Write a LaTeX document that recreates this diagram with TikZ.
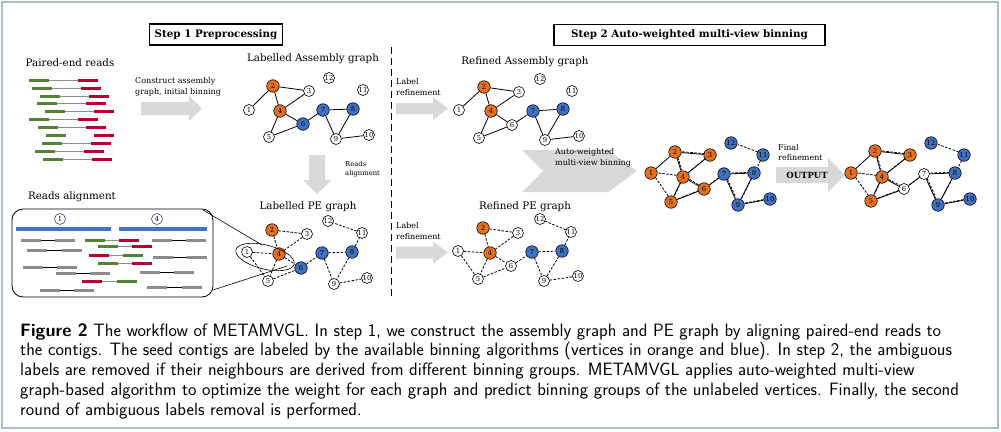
\documentclass[tikz,border=0pt]{standalone}
\usepackage{fontspec}
\setmainfont{DejaVu Serif}
\usetikzlibrary{positioning}

\definecolor{nodeorange}{HTML}{E3701E}
\definecolor{nodeblue}{HTML}{4270C0}
\definecolor{readgreen}{HTML}{548235}
\definecolor{readred}{HTML}{B8002E}
\definecolor{readgray}{HTML}{8C8C8C}
\definecolor{arrowgray}{HTML}{D9D9D9}
\definecolor{framec}{HTML}{A9BCD0}
\definecolor{barblue}{HTML}{4472C4}

\tikzset{
  vtx/.style={circle,draw,line width=0.6pt,minimum size=11pt,inner sep=0pt,font=\fontsize{6.8}{7}\selectfont},
  wv/.style={fill=white},
  ov/.style={fill=nodeorange,minimum size=12.5pt},
  bv/.style={fill=nodeblue,minimum size=12.5pt},
  asm/.style={line width=0.8pt},
  pe/.style={line width=0.8pt,dash pattern=on 2.5pt off 1.5pt},
  gtitle/.style={font=\fontsize{10.3}{12}\selectfont},
  smalllbl/.style={font=\fontsize{8}{10.5}\selectfont,align=left,anchor=west,inner sep=0pt},
  stepbox/.style={draw,line width=1.2pt,font=\bfseries\fontsize{10.3}{11}\selectfont,minimum height=21pt,inner sep=0pt},
}

% vertices of one graph: prefix, list of number/x/y/style
\newcommand{\placegraph}[2]{\foreach \n/\x/\y/\s in {#2} \node[vtx,\s] (#1\n) at (\x,\y) {\n};}
% assembly graph edges
\newcommand{\asmedges}[2][]{\foreach \a/\b in {1/2,2/3,2/4,3/4,4/5,4/6,5/6,6/7,7/8,7/9,8/9,9/10} \draw[asm,#1] (#2\a) -- (#2\b);}
% PE graph edges
\newcommand{\peedges}[2][]{\foreach \a/\b in {1/4,1/5,2/3,2/4,3/4,4/5,4/6,5/6,6/7,7/8,7/9,8/9,9/10,11/12,8/11} \draw[pe,#1] (#2\a) -- (#2\b);}
% one read pair: y, x1, colour1, x2, colour2, middle colour
\newcommand{\readpair}[6]{%
  \draw[draw=#6,line width=0.9pt] (#2+20,#1) -- (#4,#1);
  \draw[#3,line width=3pt] (#2,#1) -- ++(20,0);
  \draw[#5,line width=3pt] (#4,#1) -- ++(20,0);}
% grey block arrow to the right: tail x, head x, tip x, mid y, body half, head half
\newcommand{\blockarrow}[6]{%
  \fill[arrowgray] (#1,#4-#5) -- (#2,#4-#5) -- (#2,#4-#6) -- (#3,#4) -- (#2,#4+#6) -- (#2,#4+#5) -- (#1,#4+#5) -- cycle;}

\begin{document}
\begin{tikzpicture}[x=1pt,y=-1pt]
\useasboundingbox (0,0) rectangle (1001,431);
\draw[framec,line width=1.5pt] (2,2) rectangle (998,428);

% step headers
\node[stepbox,minimum width=133pt] (step1) at (216,34.5) {Step 1 Preprocessing};
\node[stepbox,minimum width=271pt] (step2) at (689.5,35) {Step 2 Auto-weighted multi-view binning};
\draw[line width=1pt,dash pattern=on 7pt off 4pt] (391,47) -- (391,298);

% paired-end reads
\node[gtitle] (pertitle) at (70,63) {Paired-end reads};
\foreach \y/\p/\q in {80/29/78,88/32/81,96/40/89,103/37/86,111/45/94,119/29/78,127/38/86,143/42/91,151/35/84,159/43/92}
  \readpair{\y}{\p}{readgreen}{\q}{readred}{readgray};
\readpair{135}{46}{readgreen}{94}{readred}{none}

\node[smalllbl] (constrlbl) at (135,87) {Construct assembly\\graph, initial binning};
\blockarrow{141}{189}{202}{108.5}{6.5}{12.5}

% labelled assembly graph
\node[gtitle] (latitle) at (313,59) {Labelled Assembly graph};
\placegraph{la}{1/249/110/wv,2/273/86/ov,3/309/91/wv,4/280/111/ov,5/269/137/wv,6/303/124/bv,7/323/110/bv,8/353/109/bv,9/336/139/wv,10/369/135/wv,11/363/90/wv,12/329/78/wv}
\asmedges{la}

\fill[arrowgray] (309,155) -- (325,155) -- (325,180) -- (331,180) -- (317,194) -- (303,180) -- (309,180) -- cycle;
\node[smalllbl,font=\fontsize{6.8}{9.5}\selectfont] (readslbl) at (345,169) {Reads\\alignment};

% labelled PE graph
\node[gtitle] (lptitle) at (308,207) {Labelled PE graph};
\placegraph{lp}{1/247/252/wv,2/272/230/ov,3/307/234/wv,4/279/254/ov,5/268/281/wv,6/301/268/bv,7/322/253/bv,8/352/252/bv,9/334/284/wv,10/367/278/wv,11/362/233/wv,12/328/221/wv}
\peedges{lp}
\draw[line width=0.6pt,rotate around={-14:(265,257)}] (265,257) ellipse (30 and 12);

% reads alignment
\node[gtitle] (alntitle) at (72,197) {Reads alignment};
\node[draw,line width=0.8pt,rounded corners=11pt,minimum width=201pt,minimum height=88pt,inner sep=0pt] (alnbox) at (112.5,253) {};
\coordinate (calloutA) at (203,210);
\coordinate (calloutB) at (213,290);
\coordinate (ellA) at (262,245);
\coordinate (ellB) at (287,266);
\draw[line width=0.6pt] (calloutA) -- (ellA);
\draw[line width=0.6pt] (calloutB) -- (ellB);
\node[vtx,wv,draw=barblue!70!black] (aln1) at (60,219) {1};
\node[vtx,wv,draw=barblue!70!black] (aln4) at (157,219) {4};
\draw[barblue,line width=3.5pt] (16,229) -- (111,229);
\draw[barblue,line width=3.5pt] (119,229) -- (207,229);
\foreach \y/\p/\cp/\q/\cq/\m in {240/21/readgray/55/readgray/black,240/85/readgreen/119/readred/readgray,
  240/152/readgray/186/readgray/black,246/98/readgreen/132/readred/readgray,250/27/readgray/62/readgray/black,
  255/89/readred/123/readgreen/readgray,257/153/readgray/187/readgray/black,263/98/readgreen/132/readred/readgray,
  267/23/readgray/57/readgray/black,272/140/readgray/174/readgray/black,273/56/readgray/90/readgray/black,
  281/82/readred/117/readgreen/readgray,287/147/readgray/182/readgray/black,290/40/readgray/74/readgray/black}
  \readpair{\y}{\p}{\cp}{\q}{\cq}{\m};

% label refinement
\node[smalllbl] (reflblA) at (396,87) {Label\\refinement};
\blockarrow{396}{433}{448}{108.5}{5.5}{11.5}
\node[smalllbl] (reflblB) at (396,231) {Label\\refinement};
\blockarrow{396}{433}{448}{252.5}{6}{11}

% refined assembly graph
\node[gtitle] (ratitle) at (525,62) {Refined Assembly graph};
\placegraph{ra}{1/459/110/wv,2/484/87/ov,3/519/92/wv,4/491/111/ov,5/479/138/wv,6/512/125/wv,7/533/111/bv,8/563/109/bv,9/545/140/wv,10/579/136/wv,11/572/91/wv,12/540/79/wv}
\asmedges{ra}

% refined PE graph
\node[gtitle] (rptitle) at (525,207) {Refined PE graph};
\placegraph{rp}{1/458/251/wv,2/483/228/ov,3/518/233/wv,4/490/253/ov,5/478/279/wv,6/511/266/wv,7/532/252/bv,8/562/251/bv,9/544/281/wv,10/578/276/wv,11/571/232/wv,12/540/219/wv}
\peedges{rp}

% auto-weighted multi-view binning
\fill[arrowgray] (522,150) -- (608,150) -- (637,171) -- (608,192) -- (522,192) -- (543,171) -- cycle;
\node[smalllbl] (mvlbl) at (555,158) {Auto-weighted\\multi-view binning};
\placegraph{mv}{1/651/173/ov,2/675/152/ov,3/710/155/ov,4/683/177/ov,5/671/202/ov,6/704/189/ov,7/724/174/bv,8/754/173/bv,9/738/205/bv,10/770/199/bv,11/763/155/bv,12/731/143/bv}
\asmedges{mv}
\peedges[transform canvas={shift={(0.8pt,0.8pt)}}]{mv}

% final refinement
\node[smalllbl] (finallbl) at (778,152.5) {Final\\refinement};
\blockarrow{776}{828}{845}{175}{8}{17}
\node[font=\bfseries\fontsize{8.5}{9}\selectfont,inner sep=0pt] (outlbl) at (807,175) {OUTPUT};
\placegraph{out}{1/851/173/ov,2/875/151/ov,3/910/155/ov,4/882/177/ov,5/871/201/ov,6/904/189/wv,7/924/174/wv,8/955/173/bv,9/938/205/bv,10/970/199/bv,11/964/155/bv,12/931/143/bv}
\asmedges{out}
\peedges[transform canvas={shift={(0.8pt,0.8pt)}}]{out}

% caption
\node[anchor=north west,align=left,inner sep=0pt,font=\sffamily\fontsize{17.9}{19.8}\selectfont] (caption) at (20,323)
  {\textbf{Figure 2} The workflow of METAMVGL. In step 1, we construct the assembly graph and PE graph by aligning paired-end reads to\\
   the contigs. The seed contigs are labeled by the available binning algorithms (vertices in orange and blue). In step 2, the ambiguous\\
   labels are removed if their neighbours are derived from different binning groups. METAMVGL applies auto-weighted multi-view\\
   graph-based algorithm to optimize the weight for each graph and predict binning groups of the unlabeled vertices. Finally, the second\\
   round of ambiguous labels removal is performed.};
\end{tikzpicture}
\end{document}
